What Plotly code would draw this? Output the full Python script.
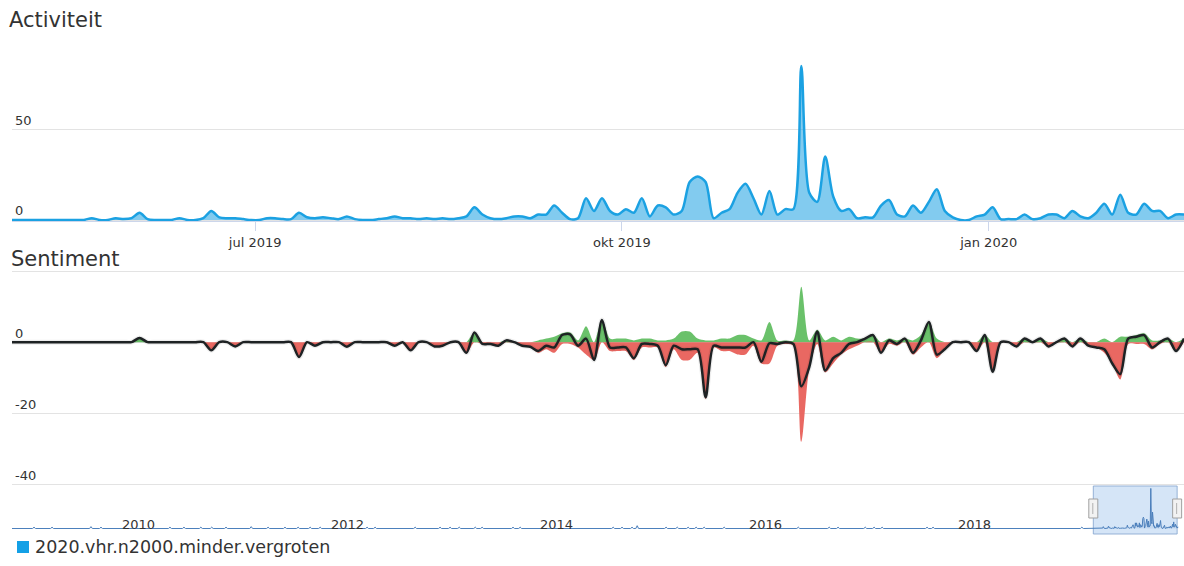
import pandas as pd
import plotly.graph_objects as go

# ---------------- data ----------------
START = "2019-05-01"          # first sample, one sample every 2 days
STEP = "2D"

ACTIVITY = [
    0, 0, 0, 0, 0, 0, 0, 0, 0, 0,
    1, 0, 0, 1, 0.5, 1, 4, 0.5, 0, 0,
    0, 1, 0, 0, 1, 5, 1.5, 1, 1, 0.5,
    0, 0, 1, 1, 0.5, 0.5, 4, 1.5, 1, 1.5,
    1, 0.5, 2, 0.5, 0, 0, 0.5, 1, 2, 1,
    1, 0.5, 1, 0.5, 1, 0.5, 1, 2, 7, 3,
    1, 0.5, 1, 2, 2, 1, 3, 3, 8, 4,
    0.5, 1, 12, 5, 12, 5, 3, 6, 4, 12,
    2, 8, 7, 3, 5, 21, 24, 21, 1, 4,
    6, 15, 20, 12, 3, 16, 3, 6, 6, 85,
    15, 10, 35, 13, 5, 6, 1, 1.5, 1.5, 8,
    11, 3, 2, 8, 4, 10, 17, 5, 1.5, 0,
    0, 2, 3, 7, 0.5, 0.5, 0.5, 3, 0.5, 1,
    3, 3, 1, 5, 2, 1, 4, 9, 3, 14,
    4, 3, 9, 5, 5, 1, 3, 3,
]

SENT_POS = [
    0, 0, 0, 0, 0, 0, 0, 0, 0, 0,
    0, 0, 0, 0, 0, 0, 1.2, 0, 0, 0,
    0, 0, 0, 0, 0, 0, 0, 0, 0, 0,
    0, 0, 0, 0, 0, 0, 0, 0, 0, 0,
    0, 0, 0, 0, 0, 0, 0, 0, 0, 0,
    0, 0, 0, 0, 0, 0, 0, 0, 2.7, 0,
    0, 0, 0.5, 0, 0, 0, 0.5, 1, 1.5, 2.5,
    2.7, 0.5, 4.5, 0, 6.2, 1, 1, 1, 0.5, 1,
    1, 0.5, 0.5, 1, 3, 3, 1, 0.5, 0.5, 1,
    1, 2, 2, 1, 0.5, 5.7, 0.5, 0.5, 0.5, 15.6,
    0.5, 3.5, 0.5, 1.5, 0.5, 1.5, 1, 1, 2, 0,
    1, 0.5, 1, 0.5, 2, 5.7, 1, 0, 0, 0,
    0, 0, 2, 0, 0, 0, 0, 1, 0, 1,
    0, 0, 1, 0, 1, 0, 0, 1, 0, 1.5,
    1.5, 2, 2.5, 0.5, 0.5, 1, 0, 1,
]

SENT_NEG = [
    0, 0, 0, 0, 0, 0, 0, 0, 0, 0,
    0, 0, 0, 0, 0, 0, 0, 0, 0, 0,
    0, 0, 0, 0, 0, -2.3, 0, 0, -1.2, 0,
    0, 0, 0, 0, 0, 0, -4.2, 0, -1, 0,
    0, 0, -1.3, 0, 0, 0, 0, 0, -1, 0,
    -2.3, 0, 0, -1.2, -1, 0, 0, -3, 0, -0.5,
    -0.5, -1, 0, 0, -1, -1.3, -3, -2, -3, -0.5,
    -0.5, -1.5, -3.5, -5, 0, -2.5, -2.5, -2.5, -5, -1.5,
    -1.5, -1.5, -7, -2, -5, -5, -3, -16, -1.5, -2.5,
    -2.5, -3.5, -3.5, -1, -6, -6, -1, -0.5, -1, -28,
    -7.5, -0.5, -8.5, -6, -3.5, -2, -1, 0, 0, -3,
    -0.5, -1, 0, -3.5, -1.5, 0, -4.5, -2, 0, 0,
    0, -2.5, 0, -8.3, 0, 0, -1.2, 0, 0, 0,
    -1.2, 0, 0, -1.2, 0, -1, -1.5, -3, -6, -10.5,
    -0.5, -0.5, -0.5, -2, -0.5, 0, -2.5, 0,
]

# small activity blips seen in the navigator (2009 - early 2019)
NAV_BLIP_DATES = [
    "2009-03-09", "2009-05-11", "2009-09-24", "2009-10-29", "2010-06-27",
    "2010-08-15", "2010-10-13", "2010-11-20", "2011-01-09", "2011-04-07",
    "2011-06-05", "2011-08-03", "2011-09-18", "2011-10-30", "2011-12-04",
    "2012-05-16", "2012-06-13", "2012-10-31", "2013-01-26", "2013-03-02",
    "2013-04-03", "2013-05-29", "2013-06-22", "2013-10-08", "2013-11-02",
    "2014-09-23", "2014-10-24", "2014-11-28", "2014-12-16", "2015-03-27",
    "2015-05-05", "2015-06-12", "2015-07-10", "2015-08-07", "2015-10-16",
    "2016-07-01", "2016-10-17", "2016-11-17", "2017-02-20", "2017-03-23",
    "2017-04-20", "2017-09-24", "2017-10-15", "2019-03-19",
]
NAV_BLIP_VALUES = [
    3, 3, 4, 3, 3, 3, 3, 3, 3, 4,
    3, 3, 3, 3, 3, 3, 3, 3, 3, 3,
    3, 3, 3, 3, 3, 3, 3, 3, 6, 3,
    3, 3, 3, 3, 3, 3, 3, 3, 3, 3,
    3, 3, 3, 3,
]

NAV_START = "2008-12-22"
NAV_END = "2020-03-10"
MAIN_RANGE = ["2019-05-01", "2020-02-19"]
SEL_RANGE = ["2019-04-28", "2020-02-15"]

X_TICKS = ["2019-07-01", "2019-10-01", "2020-01-01"]
X_TICK_TEXT = ["jul 2019", "okt 2019", "jan 2020"]
NAV_TICKS = ["2010-01-01", "2012-01-01", "2014-01-01", "2016-01-01", "2018-01-01"]
NAV_TICK_TEXT = ["2010", "2012", "2014", "2016", "2018"]

SERIES_NAME = "2020.vhr.n2000.minder.vergroten"

# ---------------- build ----------------
W, H = 1184, 566
FONT = "DejaVu Sans"
TXT = "#333333"
GRID = "#e3e3e3"

dates = pd.date_range(START, periods=len(ACTIVITY), freq=STEP)
net = [p + n for p, n in zip(SENT_POS, SENT_NEG)]

# navigator series
nav_x = [pd.Timestamp(NAV_START)]
nav_y = [0]
for d, v in zip(NAV_BLIP_DATES, NAV_BLIP_VALUES):
    t = pd.Timestamp(d)
    nav_x += [t - pd.Timedelta(days=5), t, t + pd.Timedelta(days=5)]
    nav_y += [0, v, 0]
nav_x += list(dates)
nav_y += list(ACTIVITY)


def py(p):  # pixel row -> paper y
    return 1 - p / H


def px(p):  # pixel column -> paper x
    return p / W


fig = go.Figure()

# Activity
fig.add_trace(go.Scatter(
    x=dates, y=ACTIVITY, mode="lines", fill="tozeroy",
    line=dict(color="#1ba1e2", width=2.5, shape="spline", smoothing=0.8),
    fillcolor="rgba(27,161,226,0.55)", xaxis="x", yaxis="y",
    showlegend=False, hoverinfo="x+y"))

# Sentiment areas
fig.add_trace(go.Scatter(
    x=dates, y=SENT_POS, mode="lines", fill="tozeroy",
    line=dict(color="rgba(0,0,0,0)", width=0, shape="spline", smoothing=0.8),
    fillcolor="rgba(98,190,98,0.95)", xaxis="x2", yaxis="y2",
    showlegend=False))
fig.add_trace(go.Scatter(
    x=dates, y=SENT_NEG, mode="lines", fill="tozeroy",
    line=dict(color="rgba(0,0,0,0)", width=0, shape="spline", smoothing=0.8),
    fillcolor="rgba(232,96,90,0.95)", xaxis="x2", yaxis="y2",
    showlegend=False))
# shadow under net line
fig.add_trace(go.Scatter(
    x=dates, y=net, mode="lines",
    line=dict(color="rgba(0,0,0,0.07)", width=5, shape="spline", smoothing=0.8),
    xaxis="x2", yaxis="y2", showlegend=False, hoverinfo="skip"))
fig.add_trace(go.Scatter(
    x=dates, y=net, mode="lines",
    line=dict(color="#1e2224", width=2.5, shape="spline", smoothing=0.8),
    xaxis="x2", yaxis="y2", showlegend=False))

# Navigator
fig.add_trace(go.Scatter(
    x=nav_x, y=nav_y, mode="lines", fill="tozeroy",
    line=dict(color="#4a7ebb", width=1),
    fillcolor="rgba(74,126,187,0.12)", xaxis="x3", yaxis="y3",
    showlegend=False, hoverinfo="skip"))

xdom = [px(12), 1]

fig.update_layout(
    width=W, height=H,
    margin=dict(l=0, r=0, t=0, b=0),
    paper_bgcolor="white", plot_bgcolor="white",
    font=dict(family=FONT, color=TXT, size=13),
    showlegend=False,
    xaxis=dict(
        domain=xdom, anchor="y", type="date", range=MAIN_RANGE,
        tickvals=X_TICKS, ticktext=X_TICK_TEXT,
        ticks="outside", ticklen=9, tickcolor="#ccd6eb", tickwidth=1,
        showgrid=False, zeroline=False, showline=False,
        tickfont=dict(size=13, color=TXT, family=FONT),
    ),
    yaxis=dict(
        domain=[py(221.1), py(32.4)], anchor="x", range=[-0.6, 103.5],
        tickvals=[0, 50, 103], ticktext=["0", "50", ""],
        ticklabelposition="inside top", showgrid=True, gridcolor=GRID,
        gridwidth=1, zeroline=False, showline=False, ticks="",
        tickfont=dict(size=13, color=TXT, family=FONT),
    ),
    xaxis2=dict(
        domain=xdom, anchor="y2", type="date", matches="x",
        showticklabels=False, ticks="", showgrid=False, zeroline=False,
        showline=False,
    ),
    yaxis2=dict(
        domain=[py(485.4), py(270.0)], anchor="x2", range=[-40.3, 20.3],
        tickvals=[-40, -20, 0, 20], ticktext=["-40", "-20", "0", ""],
        ticklabelposition="inside top", showgrid=True, gridcolor=GRID,
        gridwidth=1, zeroline=False, showline=False, ticks="",
        tickfont=dict(size=13, color=TXT, family=FONT),
    ),
    xaxis3=dict(
        domain=xdom, anchor="y3", type="date", range=[NAV_START, NAV_END],
        showticklabels=False, ticks="", showgrid=False,
        zeroline=False, showline=False,
    ),
    yaxis3=dict(
        domain=[py(529), py(487)], anchor="x3", range=[-1, 88],
        showticklabels=False, showgrid=False, zeroline=False, ticks="",
    ),
)

shapes = [
    # top-pane axis line
    dict(type="line", xref="paper", yref="paper", x0=px(12), x1=1,
         y0=py(221.5), y1=py(221.5), line=dict(color="#ccd6eb", width=1)),
    # navigator selection
    dict(type="rect", xref="x3", yref="paper", x0=SEL_RANGE[0], x1=SEL_RANGE[1],
         y0=py(534), y1=py(486), fillcolor="rgba(150,190,235,0.40)",
         line=dict(color="rgba(140,170,210,0.9)", width=1), layer="below"),
]
for d in SEL_RANGE:
    shapes.append(dict(type="rect", xref="x3", yref="paper", xsizemode="pixel",
                       xanchor=d, x0=-4.5, x1=4.5, y0=py(518), y1=py(499),
                       fillcolor="#f2f2f2", line=dict(color="#a0a0a0", width=1)))
    shapes.append(dict(type="line", xref="x3", yref="paper", xsizemode="pixel",
                       xanchor=d, x0=-0.5, x1=-0.5, y0=py(514), y1=py(503),
                       line=dict(color="#b0b0b0", width=1)))
# legend square
shapes.append(dict(type="rect", xref="paper", yref="paper",
                   x0=px(17), x1=px(29), y0=py(553), y1=py(541),
                   fillcolor="#14a0e6", line=dict(width=0)))
fig.update_layout(shapes=shapes)

annotations = [
    dict(text="Activiteit", xref="paper", yref="paper", x=px(7), y=py(20),
         xanchor="left", yanchor="middle", showarrow=False,
         font=dict(size=21, color=TXT, family=FONT)),
    dict(text="Sentiment", xref="paper", yref="paper", x=px(9), y=py(259),
         xanchor="left", yanchor="middle", showarrow=False,
         font=dict(size=21, color=TXT, family=FONT)),
    dict(text=SERIES_NAME, xref="paper", yref="paper", x=px(33), y=py(547),
         xanchor="left", yanchor="middle", showarrow=False,
         font=dict(size=17.5, color=TXT, family=FONT)),
]
# navigator axis labels (left-aligned just right of each tick)
for t, s in zip(NAV_TICKS, NAV_TICK_TEXT):
    annotations.append(dict(text=s, xref="x3", yref="paper", x=t, y=py(524),
                            xanchor="left", yanchor="middle", xshift=1,
                            showarrow=False,
                            font=dict(size=13, color=TXT, family=FONT)))
fig.update_layout(annotations=annotations)

fig.write_html("out.html",
               config={"displayModeBar": False},
               post_script="document.body.style.margin='0';"
                           "document.body.style.overflow='hidden';")
